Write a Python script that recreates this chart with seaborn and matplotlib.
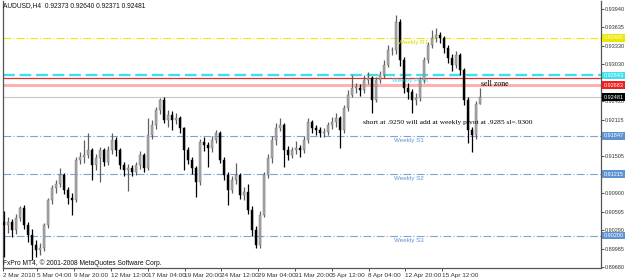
import numpy as np
import pandas as pd
import matplotlib
matplotlib.use("Agg")
import matplotlib.pyplot as plt
import matplotlib.transforms as mtrans
import seaborn as sns

# ---------------- data (AUDUSD H4) ----------------
opens = [0.9043,0.9037,0.9042,0.9029,0.9049,0.9065,0.9037,0.9021,0.9004,0.8996,
0.8999,0.9037,0.9078,0.9098,0.9105,0.9120,0.9095,0.9082,0.9078,0.9145,
0.9149,0.9153,0.9161,0.9136,0.9148,0.9161,0.9141,0.9161,0.9178,0.9161,
0.9136,0.9128,0.9131,0.9125,0.9136,0.9153,0.9131,0.9186,0.9202,0.9227,
0.9244,0.9211,0.9219,0.9211,0.9214,0.9197,0.9161,0.9145,0.9131,0.9108,
0.9174,0.9169,0.9164,0.9178,0.9189,0.9145,0.9120,0.9095,0.9111,0.9120,
0.9087,0.9092,0.9062,0.9029,0.9004,0.9054,0.9120,0.9148,0.9178,0.9197,
0.9202,0.9161,0.9153,0.9161,0.9164,0.9161,0.9178,0.9207,0.9197,0.9194,
0.9189,0.9191,0.9202,0.9207,0.9214,0.9194,0.9230,0.9252,0.9264,0.9264,
0.9260,0.9277,0.9280,0.9244,0.9277,0.9285,0.9302,0.9326,0.9326,0.9373,
0.9310,0.9264,0.9257,0.9244,0.9247,0.9277,0.9310,0.9335,0.9346,0.9351,
0.9346,0.9330,0.9313,0.9302,0.9318,0.9293,0.9244,0.9194,0.9186,0.92373]

highs = [0.9060,0.9050,0.9048,0.9056,0.9068,0.9070,0.9042,0.9030,0.9012,0.9008,
0.9040,0.9082,0.9103,0.9112,0.9131,0.9124,0.9100,0.9090,0.9150,0.9158,
0.9178,0.9189,0.9165,0.9155,0.9166,0.9165,0.9168,0.9189,0.9183,0.9165,
0.9142,0.9138,0.9136,0.9142,0.9160,0.9157,0.9214,0.9210,0.9233,0.9247,
0.9248,0.9228,0.9225,0.9222,0.9218,0.9200,0.9166,0.9150,0.9135,0.9180,
0.9182,0.9175,0.9185,0.9194,0.9192,0.9150,0.9125,0.9118,0.9140,0.9124,
0.9100,0.9105,0.9068,0.9035,0.9060,0.9125,0.9155,0.9185,0.9205,0.9214,
0.9206,0.9168,0.9166,0.9176,0.9170,0.9185,0.9214,0.9210,0.9202,0.9199,
0.9197,0.9207,0.9215,0.9222,0.9218,0.9236,0.9260,0.9285,0.9272,0.9270,
0.9285,0.9290,0.9284,0.9282,0.9292,0.9310,0.9335,0.9332,0.9384,0.9378,
0.9315,0.9272,0.9262,0.9255,0.9282,0.9315,0.9340,0.9359,0.9363,0.9356,
0.9350,0.9334,0.9320,0.9325,0.9322,0.9297,0.9248,0.9200,0.9242,0.92640]

lows = [0.8985,0.9025,0.9018,0.9022,0.9044,0.9030,0.9010,0.8980,0.8985,0.8988,
0.8995,0.9033,0.9072,0.9090,0.9100,0.9088,0.9072,0.9054,0.9075,0.9138,
0.9140,0.9148,0.9112,0.9128,0.9108,0.9135,0.9137,0.9155,0.9152,0.9130,
0.9118,0.9093,0.9118,0.9120,0.9130,0.9125,0.9128,0.9180,0.9196,0.9220,
0.9205,0.9200,0.9195,0.9204,0.9190,0.9128,0.9138,0.9122,0.9083,0.9104,
0.9160,0.9133,0.9158,0.9172,0.9140,0.9112,0.9070,0.9090,0.9105,0.9080,
0.9078,0.9055,0.9020,0.8999,0.9000,0.9050,0.9115,0.9140,0.9170,0.9192,
0.9133,0.9145,0.9148,0.9155,0.9150,0.9156,0.9172,0.9190,0.9186,0.9183,
0.9182,0.9186,0.9196,0.9200,0.9164,0.9190,0.9225,0.9248,0.9255,0.9250,
0.9255,0.9270,0.9222,0.9240,0.9272,0.9280,0.9298,0.9318,0.9320,0.9300,
0.9255,0.9245,0.9222,0.9235,0.9242,0.9272,0.9305,0.9330,0.9340,0.9338,
0.9322,0.9305,0.9292,0.9296,0.9285,0.9235,0.9172,0.9158,0.9180,0.92371]

closes = [0.9037,0.9042,0.9029,0.9049,0.9065,0.9037,0.9021,0.9004,0.8996,0.8999,
0.9037,0.9078,0.9098,0.9105,0.9120,0.9095,0.9082,0.9078,0.9145,0.9149,
0.9153,0.9161,0.9136,0.9148,0.9161,0.9141,0.9161,0.9178,0.9161,0.9136,
0.9128,0.9131,0.9125,0.9136,0.9153,0.9131,0.9186,0.9202,0.9227,0.9244,
0.9211,0.9219,0.9211,0.9214,0.9197,0.9161,0.9145,0.9131,0.9108,0.9174,
0.9169,0.9164,0.9178,0.9189,0.9145,0.9120,0.9095,0.9111,0.9120,0.9087,
0.9092,0.9062,0.9029,0.9004,0.9054,0.9120,0.9148,0.9178,0.9197,0.9202,
0.9161,0.9153,0.9161,0.9164,0.9161,0.9178,0.9207,0.9197,0.9194,0.9189,
0.9191,0.9202,0.9207,0.9214,0.9194,0.9230,0.9252,0.9264,0.9264,0.9260,
0.9277,0.9280,0.9244,0.9277,0.9285,0.9302,0.9326,0.9326,0.9373,0.9310,
0.9264,0.9257,0.9244,0.9247,0.9277,0.9310,0.9335,0.9346,0.9351,0.9346,
0.9330,0.9313,0.9302,0.9318,0.9293,0.9244,0.9194,0.9186,0.9237,0.92481]

date_labels = ["2 Mar 2010", "5 Mar 04:00", "9 Mar 20:00", "12 Mar 12:00", "17 Mar 04:00",
               "19 Mar 20:00", "24 Mar 12:00", "29 Mar 04:00", "31 Mar 20:00",
               "5 Apr 12:00", "8 Apr 04:00", "12 Apr 20:00", "15 Apr 12:00"]

price_ticks = [0.93940, 0.93635, 0.93330, 0.93030, 0.92725, 0.92420, 0.92115, 0.91810,
               0.91505, 0.91200, 0.90900, 0.90595, 0.90290, 0.89985, 0.89680]
# tick labels hidden under the price boxes in the reference
hidden_ticks = [0.92725, 0.91810, 0.91200]

level_names = ["Weekly R1", "Weekly Pivot", "Weekly S1", "Weekly S2", "Weekly S3"]
level_values = [0.93465, 0.92843, 0.91847, 0.91215, 0.90200]
red_line = 0.92800
sell_line = 0.92683
bid = 0.92481

header = "AUDUSD,H4  0.92373 0.92640 0.92371 0.92481"
footer = "FxPro MT4, \u00a9 2001-2008 MetaQuotes Software Corp."
note_text = "short at .9250 will add at weekly pivot at .9285 sl=.9300"
sell_text = "sell zone"

# ---------------- style ----------------
sns.set_theme(style="white")
plt.rcParams["font.family"] = ["Liberation Sans", "DejaVu Sans"]

df = pd.DataFrame({"open": opens, "high": highs, "low": lows, "close": closes})
df["idx"] = np.arange(len(df))
df["bull"] = df["close"] >= df["open"]

fig = plt.figure(figsize=(6.25, 2.79), dpi=100)
fig.patch.set_facecolor("white")
ax = fig.add_axes([3/625, 11/279, 598/625, 267/279])
ax.set_facecolor("white")

ax.set_xlim(-0.25, 149.25)
ax.set_ylim(0.89664, 0.94072)

# level lines
lvl_colors = ["#e8e800", "#3fe0ee", "#7fa3cf", "#7fa3cf", "#7fa3cf"]
lvl_text_colors = ["#d6d600", "#30d8e8", "#5f93cf", "#5f93cf", "#5f93cf"]
for i, (nm, v) in enumerate(zip(level_names, level_values)):
    if nm == "Weekly Pivot":
        ax.axhline(v, color=lvl_colors[i], lw=1.7, ls=(0, (5, 2)), zorder=1)
    else:
        ax.axhline(v, color=lvl_colors[i], lw=0.8, ls=(0, (7, 2, 1, 2)), zorder=1)
ax.axhline(red_line, color="#e03030", lw=0.9, zorder=1)
ax.axhline(sell_line, color="#ffb0b0", lw=2.2, zorder=1)
ax.axhline(bid, color="#c8c8c8", lw=0.8, zorder=1)

# candles
bull = df[df["bull"]]
bear = df[~df["bull"]]
ax.vlines(bull["idx"], bull["low"], bull["high"], color="#606060", lw=0.9, zorder=3)
ax.vlines(bear["idx"], bear["low"], bear["high"], color="#000000", lw=0.9, zorder=3)
ax.bar(bull["idx"], np.maximum((bull["close"] - bull["open"]).values, 0.00004),
       bottom=bull["open"], width=0.72, color="#a9a9a9", edgecolor="#707070", lw=0.3, zorder=4)
ax.bar(bear["idx"], np.maximum((bear["open"] - bear["close"]).values, 0.00004),
       bottom=bear["close"], width=0.72, color="#000000", edgecolor="#000000", lw=0.3, zorder=4)

# level labels
lbl_x = [98.5, 97.0, 97.5, 97.5, 97.5]
for i, (nm, v) in enumerate(zip(level_names, level_values)):
    ax.text(lbl_x[i], v - 0.00035, nm, fontsize=4.5, color=lvl_text_colors[i],
            va="top", ha="left", zorder=7)

ax.text(119.2, 0.92702, sell_text, fontsize=5.6, family="Liberation Serif",
        color="black", va="center", ha="left", zorder=8)
ax.text(89.7, 0.92074, note_text, fontsize=5.4, family="Liberation Serif",
        color="black", va="center", ha="left", zorder=8)

# axes / ticks
ax.yaxis.tick_right()
ax.set_yticks(price_ticks)
ax.set_yticklabels(["" if t in hidden_ticks else f"{t:.5f}" for t in price_ticks])
ax.tick_params(axis="y", which="major", length=1.8, width=0.6, pad=0.8, labelsize=4.0,
               colors="#333333", right=True, left=False)
tick_pos = [max(-0.2, 9.2 * k - 0.875) for k in range(len(date_labels))]
ax.set_xticks(tick_pos)
ax.set_xticklabels(date_labels)
ax.tick_params(axis="x", length=2, width=0.6, pad=1.5, labelsize=4.6,
               colors="#333333", bottom=True)
for lab in ax.get_xticklabels():
    lab.set_ha("left")

for s in ["left", "right", "bottom"]:
    ax.spines[s].set_color("#555555")
    ax.spines[s].set_linewidth(0.9)
ax.spines["top"].set_visible(False)

# price boxes on right axis
trans = mtrans.blended_transform_factory(ax.transAxes, ax.transData)
box_items = [(0.93465, "#e8e800", "white"), (0.92843, "#3fe0ee", "white"),
             (0.92683, "#ee2020", "white"), (0.92481, "#000000", "white"),
             (0.91847, "#5f93cf", "white"), (0.91215, "#5f93cf", "white"),
             (0.90200, "#5f93cf", "white")]
for v, fc, tc in box_items:
    ax.text(1.004, v, f"{v:.5f}", transform=trans, fontsize=4.0, color=tc,
            va="center", ha="left", clip_on=False, zorder=10,
            bbox=dict(boxstyle="square,pad=0.25", fc=fc, ec="none"))

fig.text(3/625, 1 - 6/279, header, fontsize=4.8, color="#111111", va="center", ha="left")
fig.text(3/625, 1 - 263/279, footer, fontsize=4.8, color="#111111", va="center", ha="left")

fig.savefig("out.png", dpi=100, facecolor="white")
